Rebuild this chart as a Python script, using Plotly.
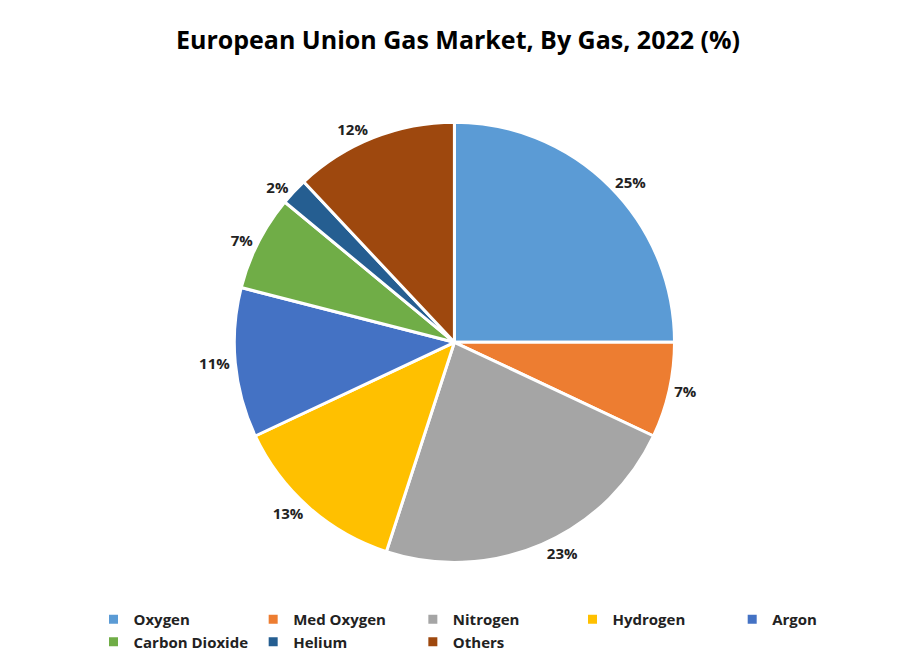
import plotly.graph_objects as go

labels = ["Oxygen", "Med Oxygen", "Nitrogen", "Hydrogen", "Argon", "Carbon Dioxide", "Helium", "Others"]
values = [25, 7, 23, 13, 11, 7, 2, 12]
colors = ["#5B9BD5", "#ED7D31", "#A5A5A5", "#FFC000", "#4472C4", "#70AD47", "#255E91", "#9E480E"]

fig = go.Figure(go.Pie(
    labels=["<b>%s</b>" % l for l in labels], values=values, sort=False, direction="clockwise", rotation=0,
    marker=dict(colors=colors, line=dict(color="white", width=3)),
    texttemplate="<b>%{value}%</b>", textposition="outside",
    textfont=dict(family="Open Sans", size=15, color="#222"),
    domain=dict(x=[0.16, 0.832], y=[0.16, 0.827]),
    hoverinfo="label+percent",
))
fig.update_layout(
    width=900, height=660, paper_bgcolor="white", plot_bgcolor="white",
    margin=dict(l=0, r=0, t=0, b=0),
    title=dict(text="<b>European Union Gas Market, By Gas, 2022 (%)</b>", x=0.5, y=0.965,
               xanchor="center", font=dict(family="Open Sans", size=25, color="black")),
    legend=dict(orientation="h", x=0.5, xanchor="center", y=0.015, yanchor="bottom",
                font=dict(family="Open Sans", size=15, color="#222"), itemwidth=30, traceorder="normal"),
)
fig.write_html("out.html")
